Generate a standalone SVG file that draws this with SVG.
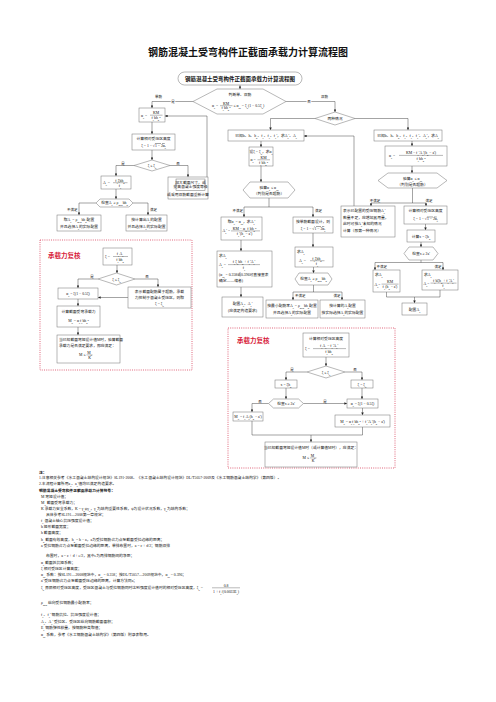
<svg xmlns="http://www.w3.org/2000/svg" width="496" height="702" viewBox="0 0 496 702">
<defs>
<marker id="ar" viewBox="0 0 6 6" refX="6" refY="3" markerWidth="2.6" markerHeight="2.6" markerUnits="userSpaceOnUse" orient="auto"><path d="M0,0 L6,3 L0,6 z" fill="#222"/></marker>
<style>
text{font-family:"Liberation Serif","Noto Sans CJK SC",serif;font-size:3.8px;fill:#111}
.m{text-anchor:middle}
.e{text-anchor:end}
.d{font-size:70%;baseline-shift:sub}
.u{font-size:70%;baseline-shift:super}
.b{fill:#fff;stroke:#707070;stroke-width:.5}
.c{fill:none;stroke:#333;stroke-width:.45}
.a{marker-end:url(#ar)}
.f{stroke:#111;stroke-width:.3}
.r{fill:none;stroke:#d8405a;stroke-width:.8;stroke-dasharray:1 1.2}
.rl{font-size:6.5px;font-weight:bold;fill:#d81e3c;font-family:"Noto Sans CJK SC",sans-serif}
.lb{font-size:3.5px}
.w{paint-order:stroke;stroke:#fff;stroke-width:1.2px}
.n{font-size:4.1px}
.ov{text-decoration:overline}
</style>
</defs>
<rect width="496" height="702" fill="#fff"/>
<text class="m" x="248" y="56" style="font-size:10px;font-weight:bold;font-family:'Noto Sans CJK SC',sans-serif">钢筋混凝土受弯构件正截面承载力计算流程图</text>

<rect class="r" x="40" y="240" width="152" height="130"/>
<text class="rl" x="48" y="258">承载力复核</text>
<rect class="r" x="228" y="328" width="167" height="140"/>
<text class="rl" x="237" y="343">承载力复核</text>

<g id="connectors">
<path class="c a" d="M240,85 V89"/>
<path class="c a" d="M193,101.5 H152 V108"/>
<path class="c a" d="M286,101.5 H335 V112"/>
<path class="c a" d="M315,118.5 H270.5 V130"/>
<path class="c a" d="M355,118.5 H408 V130"/>
<path class="c a" d="M152,122 V134"/>
<path class="c a" d="M152,150 V160"/>
<path class="c a" d="M134,165.5 H116 V176"/>
<path class="c a" d="M170,165.5 H188 V177"/>
<path class="c a" d="M207,177 V116 H165"/>
<path class="c a" d="M116,189 V199"/>
<path class="c a" d="M96,203 H79 V215"/>
<path class="c a" d="M133,203 H148 V215"/>
<path class="c a" d="M117,265 V273"/>
<path class="c a" d="M98,279 H78 V288"/>
<path class="c a" d="M135,279 H158 V287"/>
<path class="c a" d="M128,297.5 H98"/>
<path class="c a" d="M78,299 V306"/>
<path class="c a" d="M78,327 V335"/>
<path class="c a" d="M261,141 V147"/>
<path class="c a" d="M261,166 V182"/>
<path class="c" d="M269,198 V207 M244,207 H313"/>
<path class="c a" d="M244,207 V217"/>
<path class="c a" d="M313,207 V217"/>
<path class="c a" d="M241,240 V251"/>
<path class="c a" d="M241,287 V297"/>
<path class="c a" d="M313,233 V247"/>
<path class="c a" d="M313.5,267 V273"/>
<path class="c" d="M313.5,285 V292 M293,292 H342"/>
<path class="c a" d="M293,292 V300"/>
<path class="c a" d="M342,292 V300"/>
<path class="c a" d="M412,141 V146"/>
<path class="c a" d="M412,166 V173"/>
<path class="c" d="M412.5,188 V203 M371,203 H426"/>
<path class="c a" d="M371,203 V206"/>
<path class="c a" d="M426,203 V206"/>
<path class="c a" d="M354,206 V136 H304"/>
<path class="c a" d="M425.5,224 V230"/>
<path class="c a" d="M421,242 V247"/>
<path class="c" d="M421,260 V262.5 M375,262.5 H443"/>
<path class="c a" d="M375,262.5 V270"/>
<path class="c a" d="M443,262.5 V270"/>
<path class="c" d="M386.5,292 V297 H440 V290"/>
<path class="c a" d="M414.5,297 V303"/>
<path class="c a" d="M326,357 V366"/>
<path class="c a" d="M307,372 H286 V380"/>
<path class="c a" d="M345,372 H362 V380"/>
<path class="c a" d="M286,388 V399"/>
<path class="c a" d="M303.5,403.5 H347"/>
<path class="c a" d="M362,388 V399"/>
<path class="c a" d="M268.5,403.5 H252 V412"/>
<path class="c a" d="M362.5,408 V415"/>
<path class="c" d="M252,421 V435 H362.5 V427"/>
<path class="c a" d="M311,435 V442"/>
<text class="lb" x="155" y="98">单筋</text>
<text class="lb m w" x="173" y="103">是</text>
<text class="lb" x="321" y="98">双筋</text>
<text class="lb m w" x="309" y="103">否</text>
<text class="lb m" x="123" y="164.5">是</text>
<text class="lb m" x="178" y="164.5">否</text>
<text class="lb e" x="77.5" y="211">不满足</text>
<text class="lb" x="150" y="211">满足</text>
<text class="lb m" x="92" y="278">是</text>
<text class="lb m" x="147" y="278">否</text>
<text class="lb e" x="243" y="212">不满足</text>
<text class="lb" x="315" y="212">满足</text>
<text class="lb" x="295" y="297">不满足</text>
<text class="lb e" x="340.5" y="297">满足</text>
<text class="lb m" x="375" y="201.5">不满足</text>
<text class="lb m" x="429" y="201.5">满足</text>
<text class="lb" x="376.5" y="268">不满足</text>
<text class="lb e" x="441.5" y="268">满足</text>
<text class="lb m" x="292" y="371">是</text>
<text class="lb m" x="355" y="371">否</text>
<text class="lb m" x="325" y="402.5">是</text>
<text class="lb m" x="260" y="402.5">否</text>
</g>

<g id="n_start"><rect class="b" x="178" y="72" width="124" height="13" rx="6.5"/><text class="m" x="240" y="80.6" style="font-size:5.5px;font-weight:bold">钢筋混凝土受弯构件正截面承载力计算流程图</text></g>

<g id="n_judge"><polygon class="b" points="193,101.5 217,89 263,89 286,101.5 263,114 217,114"/>
<text class="m" x="240" y="96">判断单、双筋</text>
<text x="212" y="107" font-size="3.6">α<tspan class="d">s</tspan> =</text>
<text class="m" x="226" y="104.6" font-size="3.6">KM</text><line class="f" x1="220" y1="105.7" x2="232.5" y2="105.7"/><text class="m" x="226" y="109.4" font-size="3.6">f<tspan class="d">c</tspan>bh<tspan class="d">0</tspan><tspan class="u">2</tspan></text>
<text x="233.5" y="107" font-size="3.6">≤ α<tspan class="d">sb</tspan> = ξ<tspan class="d">b</tspan>(1 − 0.5ξ<tspan class="d">b</tspan>)</text></g>

<g id="n_two"><polygon class="b" points="315,118.5 335,112 355,118.5 335,125"/><text class="m" x="335" y="120">两种情况</text></g>

<g id="n_as1"><rect class="b" x="139" y="108" width="26" height="14"/>
<text x="141" y="116.5" font-size="3.6">α<tspan class="d">s</tspan> =</text>
<text class="m" x="156" y="114" font-size="3.6">KM</text><line class="f" x1="150" y1="115.2" x2="162.5" y2="115.2"/><text class="m" x="156" y="119" font-size="3.6">f<tspan class="d">c</tspan>bh<tspan class="d">0</tspan><tspan class="u">2</tspan></text></g>

<g id="n_xi1"><rect class="b" x="132" y="134" width="43" height="16"/><text class="m" x="153.5" y="139.8">计算相对受压区高度</text><text class="m" x="153.5" y="146.5" font-size="3.6">ξ = 1 − √<tspan class="ov">1 − 2α<tspan class="d">s</tspan></tspan></text></g>

<g id="n_chk1"><polygon class="b" points="134,165.5 152,160 170,165.5 152,171"/><text class="m" x="152" y="167" font-size="3.6">ξ ≤ ξ<tspan class="d">b</tspan></text></g>

<g id="n_enlarge"><rect class="b" x="168" y="177" width="40" height="22"/><rect class="b" x="176" y="179" width="29" height="11.5"/>
<text class="m" x="190.5" y="183.8" font-size="3.2">加大截面尺寸，或</text><text class="m" x="190.5" y="188.3" font-size="3.2">提高混凝土强度等级</text>
<text class="m" x="188" y="196" font-size="3.4">或采用双筋截面重新计算</text></g>

<g id="n_as_calc"><rect class="b" x="101" y="176" width="30" height="13"/>
<text x="103" y="184" font-size="3.6">A<tspan class="d">s</tspan> =</text>
<text class="m" x="120" y="181.5" font-size="3.6">f<tspan class="d">c</tspan>ξbh<tspan class="d">0</tspan></text><line class="f" x1="113" y1="182.7" x2="127.5" y2="182.7"/><text class="m" x="120" y="186.6" font-size="3.6">f<tspan class="d">y</tspan></text></g>

<g id="n_rho1"><polygon class="b" points="96,203 100,199 129,199 133,203 129,207 100,207"/><text class="m" x="114.5" y="204.3" font-size="3.3">检查A<tspan class="d">s</tspan> ≥ ρ<tspan class="d">min</tspan>bh<tspan class="d">0</tspan></text></g>

<g id="n_min1"><rect class="b" x="57" y="215" width="44" height="16"/><text class="m" x="79" y="221" font-size="3.5">取A<tspan class="d">s</tspan> = ρ<tspan class="d">min</tspan>bh<tspan class="d">0</tspan>配置</text><text class="m" x="79" y="227.5" font-size="3.5">并且选择A<tspan class="d">s</tspan>的实际配置</text></g>

<g id="n_calc1"><rect class="b" x="126" y="215" width="41" height="16"/><text class="m" x="146.5" y="221" font-size="3.5">按计算出A<tspan class="d">s</tspan>的配置</text><text class="m" x="146.5" y="227.5" font-size="3.5">并且选择A<tspan class="d">s</tspan>的实际配置</text></g>

<g id="n_xi2"><rect class="b" x="103" y="248" width="29" height="17"/>
<text x="105" y="258" font-size="3.6">ξ =</text>
<text class="m" x="120" y="255.2" font-size="3.6">f<tspan class="d">y</tspan>A<tspan class="d">s</tspan></text><line class="f" x1="113" y1="256.5" x2="128" y2="256.5"/><text class="m" x="120" y="260.5" font-size="3.6">f<tspan class="d">c</tspan>bh<tspan class="d">0</tspan></text></g>

<g id="n_chk2"><polygon class="b" points="98,279 116.5,273 135,279 116.5,285"/><text class="m" x="116.5" y="280.5" font-size="3.6">ξ ≤ ξ<tspan class="d">b</tspan></text></g>

<g id="n_as2"><rect class="b" x="58" y="288" width="40" height="11"/><text class="m" x="78" y="295" font-size="3.6">α<tspan class="d">s</tspan> = ξ(1 − 0.5ξ)</text></g>

<g id="n_over"><rect class="b" x="128" y="287" width="63" height="21"/><text class="m" x="159.5" y="293" font-size="3.6">表示截面配筋属于超筋，承载</text><text class="m" x="159.5" y="299" font-size="3.6">力控制于混凝土受压区，则取</text><text class="m" x="159.5" y="305" font-size="3.6">ξ = ξ<tspan class="d">b</tspan></text></g>

<g id="n_mu1"><rect class="b" x="57" y="306" width="43" height="21"/><text class="m" x="78.5" y="313" font-size="3.6">计算截面受弯承载力</text><text class="m" x="78.5" y="321.5" font-size="3.6">M<tspan class="d">u</tspan> = α<tspan class="d">s</tspan>f<tspan class="d">c</tspan>bh<tspan class="d">0</tspan><tspan class="u">2</tspan></text></g>

<g id="n_chk_m1"><rect class="b" x="57" y="335" width="63" height="28"/><text x="59" y="341" font-size="3.5">当已知截面弯矩设计值M时，验算截面</text><text x="59" y="347" font-size="3.5">承载力是否满足要求，即应满足：</text>
<text class="e" x="85.5" y="356" font-size="3.6">M ≤</text><text class="m" x="89.5" y="353.8" font-size="3.6">M<tspan class="d">u</tspan></text><line class="f" x1="86.5" y1="354.9" x2="92.5" y2="354.9"/><text class="m" x="89.5" y="358.6" font-size="3.6">K</text></g>

<g id="n_case1"><rect class="b" x="228" y="130" width="76" height="11"/><text class="m" x="266" y="137" font-size="3.7">已知b、h、h<tspan class="d">0</tspan>、f<tspan class="d">c</tspan>、f<tspan class="d">y</tspan>、f<tspan class="d">y</tspan>'，求A<tspan class="d">s</tspan>'、A<tspan class="d">s</tspan></text></g>

<g id="n_case1a"><rect class="b" x="249" y="147" width="24" height="19"/><text class="m" x="261" y="152.5" font-size="3.4">设ξ = ξ<tspan class="d">b</tspan>，求α<tspan class="d">s</tspan></text>
<text x="250.5" y="161" font-size="3.4">α<tspan class="d">s</tspan>=</text><text class="m" x="263.5" y="158.8" font-size="3.4">KM</text><line class="f" x1="257.5" y1="159.8" x2="270" y2="159.8"/><text class="m" x="263.5" y="163.5" font-size="3.4">f<tspan class="d">c</tspan>bh<tspan class="d">0</tspan><tspan class="u">2</tspan></text></g>

<g id="n_chk3"><polygon class="b" points="243,190 250,182 288,182 295,190 288,198 250,198"/><text class="m" x="269" y="189" font-size="3.6">验算α<tspan class="d">s</tspan> ≤ α<tspan class="d">sb</tspan></text><text class="m" x="269" y="195" font-size="3.4">（判别是否超筋）</text></g>

<g id="n_ascomp"><rect class="b" x="221" y="217" width="41" height="23"/><text class="m" x="241.5" y="222.5" font-size="3.5">取α<tspan class="d">s</tspan> = α<tspan class="d">sb</tspan>，求A<tspan class="d">s</tspan>'</text>
<text x="222.5" y="232.3" font-size="3.3">A<tspan class="d">s</tspan>' =</text><text class="m" x="244.5" y="229.8" font-size="3.3">KM − α<tspan class="d">sb</tspan>f<tspan class="d">c</tspan>bh<tspan class="d">0</tspan><tspan class="u">2</tspan></text><line class="f" x1="231" y1="230.9" x2="260" y2="230.9"/><text class="m" x="244.5" y="235.2" font-size="3.3">f<tspan class="d">y</tspan>'(h<tspan class="d">0</tspan> − a')</text></g>

<g id="n_as3"><rect class="b" x="217" y="251" width="55" height="36"/><text x="219" y="256.5" font-size="3.5">求A<tspan class="d">s</tspan></text>
<text x="219" y="266" font-size="3.4">A<tspan class="d">s</tspan> =</text><text class="m" x="244" y="263.4" font-size="3.4">f<tspan class="d">c</tspan>ξ<tspan class="d">b</tspan>bh<tspan class="d">0</tspan> + f<tspan class="d">y</tspan>'A<tspan class="d">s</tspan>'</text><line class="f" x1="228" y1="264.6" x2="260" y2="264.6"/><text class="m" x="244" y="268.8" font-size="3.4">f<tspan class="d">y</tspan></text>
<text x="219" y="276" font-size="3.4">(α<tspan class="d">sb</tspan> = 0.358或0.396可直接查表</text><text x="219" y="282" font-size="3.4">确定——编者)</text></g>

<g id="n_conf"><rect class="b" x="222" y="297" width="41" height="20"/><text class="m" x="242.5" y="304.5" font-size="3.6">配置A<tspan class="d">s</tspan>、A<tspan class="d">s</tspan>'</text><text class="m" x="242.5" y="311.5" font-size="3.5">(应满足构造要求)</text></g>

<g id="n_single"><rect class="b" x="293" y="217" width="40" height="16"/><text class="m" x="313" y="222.8" font-size="3.5">按单筋截面设计，则</text><text class="m" x="313" y="229.5" font-size="3.6">ξ = 1 − √<tspan class="ov">1 − 2α<tspan class="d">s</tspan></tspan></text></g>

<g id="n_as4"><rect class="b" x="295" y="247" width="38" height="20"/><text x="297" y="252.8" font-size="3.5">求A<tspan class="d">s</tspan></text>
<text x="299" y="262" font-size="3.6">A<tspan class="d">s</tspan> =</text><text class="m" x="317" y="259.5" font-size="3.6">f<tspan class="d">c</tspan>ξbh<tspan class="d">0</tspan></text><line class="f" x1="310" y1="260.7" x2="324.5" y2="260.7"/><text class="m" x="317" y="264.6" font-size="3.6">f<tspan class="d">y</tspan></text></g>

<g id="n_rho2"><polygon class="b" points="295,279 299,273 328,273 332,279 328,285 299,285"/><text class="m" x="313.5" y="280.3" font-size="3.3">检查A<tspan class="d">s</tspan> ≥ ρ<tspan class="d">min</tspan>bh<tspan class="d">0</tspan></text></g>

<g id="n_min2"><rect class="b" x="266" y="300" width="52" height="18"/><text class="m" x="292" y="306.5" font-size="3.5">按最小配筋率A<tspan class="d">s</tspan> = ρ<tspan class="d">min</tspan>bh<tspan class="d">0</tspan>配置</text><text class="m" x="292" y="313.5" font-size="3.5">并且选择A<tspan class="d">s</tspan>的实际配置</text></g>

<g id="n_calc2"><rect class="b" x="320" y="300" width="45" height="18"/><text class="m" x="342.5" y="306.5" font-size="3.5">按计算的A<tspan class="d">s</tspan>配置</text><text class="m" x="342.5" y="313.5" font-size="3.5">按实际选择A<tspan class="d">s</tspan>的实际配置</text></g>

<g id="n_case2"><rect class="b" x="374" y="130" width="68" height="11"/><text class="m" x="408" y="137" font-size="3.5">已知b、h、h<tspan class="d">0</tspan>、f<tspan class="d">c</tspan>、f<tspan class="d">y</tspan>、f<tspan class="d">y</tspan>'、A<tspan class="d">s</tspan>'，求A<tspan class="d">s</tspan></text></g>

<g id="n_as5"><rect class="b" x="385" y="146" width="62" height="20"/>
<text x="389" y="157" font-size="3.6">α<tspan class="d">s</tspan> =</text><text class="m" x="421" y="154.2" font-size="3.6">KM − f<tspan class="d">y</tspan>'A<tspan class="d">s</tspan>'(h<tspan class="d">0</tspan> − a')</text><line class="f" x1="399" y1="155.4" x2="443" y2="155.4"/><text class="m" x="421" y="159.6" font-size="3.6">f<tspan class="d">c</tspan>bh<tspan class="d">0</tspan><tspan class="u">2</tspan></text></g>

<g id="n_chk4"><polygon class="b" points="378,180.5 388,173 437,173 447,180.5 437,188 388,188"/><text class="m" x="412.5" y="179.5" font-size="3.6">验算α<tspan class="d">s</tspan> ≤ α<tspan class="d">sb</tspan></text><text class="m" x="412.5" y="185.5" font-size="3.4">（判别是否超筋）</text></g>

<g id="n_lack"><rect class="b" x="341" y="206" width="54" height="31"/><text x="343" y="212" font-size="3.5">表示已配置的受压钢筋A<tspan class="d">s</tspan>'</text><text x="343" y="218.5" font-size="3.5">数量不足，应增加其用量，</text><text x="343" y="225" font-size="3.5">此时可按A<tspan class="d">s</tspan>'未知的情况</text><text x="343" y="231.5" font-size="3.5">计算（即第一种情况）</text></g>

<g id="n_xi3"><rect class="b" x="404" y="206" width="43" height="18"/><text class="m" x="425.5" y="212.3">计算相对受压区高度</text><text class="m" x="425.5" y="219.8" font-size="3.6">ξ = 1 − √<tspan class="ov">1 − 2α<tspan class="d">s</tspan></tspan></text></g>

<g id="n_x"><rect class="b" x="407" y="230" width="28" height="12"/><text class="m" x="421" y="237.5" font-size="3.6">计算x = ξh<tspan class="d">0</tspan></text></g>

<g id="n_chk5"><polygon class="b" points="404,253.5 409,247 433,247 438,253.5 433,260 409,260"/><text class="m" x="421" y="255" font-size="3.6">检查x ≥ 2a'</text></g>

<g id="n_as6"><rect class="b" x="373" y="270" width="27" height="22"/><text x="375" y="276" font-size="3.5">求A<tspan class="d">s</tspan></text>
<text x="374.5" y="285.5" font-size="3.3">A<tspan class="d">s</tspan>=</text><text class="m" x="390" y="283" font-size="3.3">KM</text><line class="f" x1="381.5" y1="284.1" x2="398.5" y2="284.1"/><text class="m" x="390" y="288.2" font-size="3.3">f<tspan class="d">y</tspan>(h<tspan class="d">0</tspan> − a')</text></g>

<g id="n_as7"><rect class="b" x="422" y="270" width="36" height="20"/><text x="424" y="276" font-size="3.5">求A<tspan class="d">s</tspan></text>
<text x="423.5" y="284.5" font-size="3.3">A<tspan class="d">s</tspan>=</text><text class="m" x="443.5" y="282" font-size="3.3">f<tspan class="d">c</tspan>bξh<tspan class="d">0</tspan> + f<tspan class="d">y</tspan>'A<tspan class="d">s</tspan>'</text><line class="f" x1="430.5" y1="283.1" x2="456.5" y2="283.1"/><text class="m" x="443.5" y="287.2" font-size="3.3">f<tspan class="d">y</tspan></text></g>

<g id="n_conf2"><rect class="b" x="402" y="303" width="25" height="12"/><text class="m" x="414.5" y="310.5" font-size="3.6">配置A<tspan class="d">s</tspan></text></g>

<g id="n_xi4"><rect class="b" x="303" y="333" width="46" height="24"/><text class="m" x="326" y="339.5">计算相对受压区高度</text>
<text x="305" y="350" font-size="3.5">ξ =</text><text class="m" x="329" y="347.4" font-size="3.5">f<tspan class="d">y</tspan>A<tspan class="d">s</tspan> − f<tspan class="d">y</tspan>'A<tspan class="d">s</tspan>'</text><line class="f" x1="313" y1="348.6" x2="346" y2="348.6"/><text class="m" x="329" y="352.8" font-size="3.5">f<tspan class="d">c</tspan>bh<tspan class="d">0</tspan></text></g>

<g id="n_chk6"><polygon class="b" points="307,372 326,366 345,372 326,378"/><text class="m" x="326" y="373.5" font-size="3.6">ξ ≤ ξ<tspan class="d">b</tspan></text></g>

<g id="n_x2"><rect class="b" x="275" y="380" width="22" height="8"/><text class="m" x="286" y="385.5" font-size="3.6">x = ξh<tspan class="d">0</tspan></text></g>

<g id="n_xib"><rect class="b" x="351" y="380" width="22" height="8"/><text class="m" x="362" y="385.5" font-size="3.6">ξ = ξ<tspan class="d">b</tspan></text></g>

<g id="n_chk7"><polygon class="b" points="268.5,403.5 273.5,399 298.5,399 303.5,403.5 298.5,408 273.5,408"/><text class="m" x="286" y="405" font-size="3.5">检查x ≥ 2a'</text></g>

<g id="n_as8"><rect class="b" x="347" y="399" width="31" height="9"/><text class="m" x="362.5" y="405" font-size="3.5">α<tspan class="d">s</tspan> = ξ(1 − 0.5ξ)</text></g>

<g id="n_mu2"><rect class="b" x="233" y="412" width="30" height="9"/><text class="m" x="248" y="418" font-size="3.4">M<tspan class="d">u</tspan> = f<tspan class="d">y</tspan>A<tspan class="d">s</tspan>(h<tspan class="d">0</tspan> − a')</text></g>

<g id="n_mu3"><rect class="b" x="335" y="415" width="55" height="12"/><text class="m" x="362.5" y="422.5" font-size="3.4">M<tspan class="d">u</tspan> = α<tspan class="d">s</tspan>f<tspan class="d">c</tspan>bh<tspan class="d">0</tspan><tspan class="u">2</tspan> + f<tspan class="d">y</tspan>'A<tspan class="d">s</tspan>'(h<tspan class="d">0</tspan> − a')</text></g>

<g id="n_final"><rect class="b" x="265" y="442" width="92" height="25"/><text class="m" x="311" y="448.5" font-size="3.6">当已知截面弯矩设计值M时（或计算值M时），应满足：</text>
<text class="e" x="309" y="459" font-size="3.6">M ≤</text><text class="m" x="313" y="456.8" font-size="3.6">M<tspan class="d">u</tspan></text><line class="f" x1="310" y1="457.9" x2="316.5" y2="457.9"/><text class="m" x="313" y="461.6" font-size="3.6">K</text></g>

<g id="notes" class="n">
<text x="39" y="473.5" font-weight="bold">注：</text>
<text x="39" y="479">1.注意相关参考《水工混凝土结构设计规范》SL191-2008、《水工混凝土结构设计规范》DL/T5057-2009及《水工钢筋混凝土结构学》（第四版）。</text>
<text x="39" y="485">2.本流程计算所用a<tspan class="d">s</tspan>、a<tspan class="d">s</tspan>'值均已满足构造要求。</text>
<text x="39" y="491.5" font-weight="bold" font-size="4.8">钢筋混凝土受弯构件正截面承载力计算符号：</text>
<text x="41" y="498">M  弯矩设计值；</text>
<text x="41" y="504">M<tspan class="d">u</tspan>  截面受弯承载力；</text>
<text x="41" y="510">K  承载力安全系数，K = γ<tspan class="d">0</tspan>ψγ<tspan class="d">d</tspan>，γ<tspan class="d">0</tspan>为结构重要性系数，ψ为设计状况系数，γ<tspan class="d">d</tspan>为结构系数；</text>
<text x="46" y="515.5">具体参考SL191—2008第一章规定；</text>
<text x="41" y="522">f<tspan class="d">c</tspan>  混凝土轴心抗压强度设计值；</text>
<text x="41" y="528">b  矩形截面宽度；</text>
<text x="41" y="534">h  截面高度；</text>
<text x="41" y="540.5">h<tspan class="d">0</tspan>  截面有效高度，h<tspan class="d">0</tspan> = h − a，a为受拉钢筋合力点至截面受拉边缘的距离；</text>
<text x="41" y="547">a  受拉钢筋合力点至截面受拉边缘的距离，单排布置时，a = c + d/2；钢筋双排</text>
<text x="46" y="557">布置时，a = c + d + e/2，其中e为两排钢筋间的净距；</text>
<text x="41" y="564">α<tspan class="d">s</tspan>  截面抵抗矩系数；</text>
<text x="41" y="570">ξ  相对受压区计算高度；</text>
<text x="41" y="576">α<tspan class="d">sb</tspan>  系数：按SL191—2008规范中，α<tspan class="d">sb</tspan> = 0.358；按DL/T5057—2009规范中，α<tspan class="d">sb</tspan> = 0.396；</text>
<text x="41" y="582">a'  受压钢筋合力点至截面受压边缘的距离，计算方法同a；</text>
<text x="41" y="589">ξ<tspan class="d">b</tspan>  界限相对受压区高度，受压区混凝土与受拉钢筋同时达到强度设计值时的相对受压区高度，ξ<tspan class="d">b</tspan> =</text>
<text class="m" x="226" y="586.5">0.8</text><line class="f" x1="212" y1="587.8" x2="240" y2="587.8"/><text class="m" x="226" y="593">1 + f<tspan class="d">y</tspan>/(0.0033E<tspan class="d">s</tspan>)</text>
<text x="41" y="604">ρ<tspan class="d">min</tspan>  纵向受拉钢筋最小配筋率；</text>
<text x="41" y="616">f<tspan class="d">y</tspan>、f<tspan class="d">y</tspan>'  钢筋抗拉、抗压强度设计值；</text>
<text x="41" y="623">A<tspan class="d">s</tspan>、A<tspan class="d">s</tspan>'  受拉区、受压区纵向钢筋截面面积；</text>
<text x="41" y="629">E<tspan class="d">s</tspan>  钢筋弹性模量，按钢筋种类取值；</text>
<text x="41" y="636">α<tspan class="d">sb</tspan>  系数，参考《水工钢筋混凝土结构学》（第四版）附录表取用。</text>
</g>
</svg>
